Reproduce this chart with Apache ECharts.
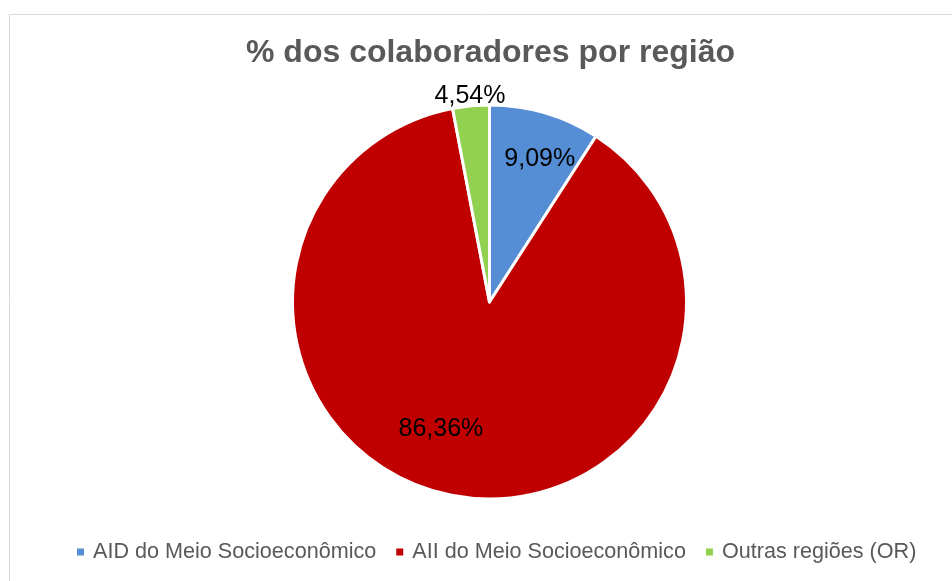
<!DOCTYPE html>
<html>
<head>
<meta charset="utf-8">
<script src="https://cdn.jsdelivr.net/npm/echarts@6/dist/echarts.min.js"></script>
<style>
  html, body { margin: 0; padding: 0; background: #fff; }
  #main { width: 952px; height: 581px; }
</style>
</head>
<body>
<div id="main"></div>
<script>
// data
var categories = ["AID do Meio Socioeconômico", "AII do Meio Socioeconômico", "Outras regiões (OR)"];
var shares = [9.09, 87.9, 3.0];            // slice sizes as drawn
var labelTexts = ["9,09%", "86,36%", "4,54%"]; // labels as printed
var colors = ["#558ED5", "#C00000", "#92D050"];

// where each label sits, as a fraction of the radius, and angle nudge (deg)
var labelRadius = [0.77, 0.69, 1.05];
var labelTurn = [3, 10, 0];

var cx = 489.5, cy = 302, R = 197;

var chartDom = document.getElementById("main");
var myChart = echarts.init(chartDom);

var option = {
  backgroundColor: "#fff",
  graphic: [{
    type: "rect",
    shape: { x: 9.5, y: 14.5, width: 1000, height: 700 },
    style: { fill: "none", stroke: "#d9d9d9", lineWidth: 1 },
    silent: true
  }],
  title: {
    text: "% dos colaboradores por região",
    left: 246,
    top: 37,
    padding: 0,
    textStyle: {
      fontFamily: "Liberation Sans, Arial, sans-serif",
      fontSize: 32,
      fontWeight: "bold",
      color: "#595959"
    }
  },
  legend: {
    bottom: 18,
    left: 75,
    padding: 0,
    itemWidth: 9,
    itemHeight: 9,
    itemGap: 18,
    icon: "rect",
    textStyle: {
      fontFamily: "Liberation Sans, Arial, sans-serif",
      fontSize: 21.6,
      color: "#595959",
      padding: [0, 0, 0, 3]
    },
    data: categories
  },
  series: [{
    type: "pie",
    center: [cx, cy],
    radius: R,
    startAngle: 90,
    clockwise: true,
    animation: false,
    itemStyle: { borderColor: "#fff", borderWidth: 3 },
    label: {
      position: "inside",
      fontFamily: "Liberation Sans, Arial, sans-serif",
      fontSize: 25,
      color: "#000",
      formatter: function (p) { return labelTexts[p.dataIndex]; }
    },
    labelLine: { show: false },
    labelLayout: function (p) {
      var lx = p.labelRect.x + p.labelRect.width / 2;
      var ly = p.labelRect.y + p.labelRect.height / 2;
      var dx = lx - cx, dy = ly - cy;
      var ang = Math.atan2(dx, -dy) + labelTurn[p.dataIndex] * Math.PI / 180;
      var r = labelRadius[p.dataIndex] * R;
      return { x: cx + r * Math.sin(ang), y: cy - r * Math.cos(ang) };
    },
    data: categories.map(function (c, i) {
      return { name: c, value: shares[i], itemStyle: { color: colors[i] } };
    })
  }]
};

option && myChart.setOption(option);
</script>
</body>
</html>
